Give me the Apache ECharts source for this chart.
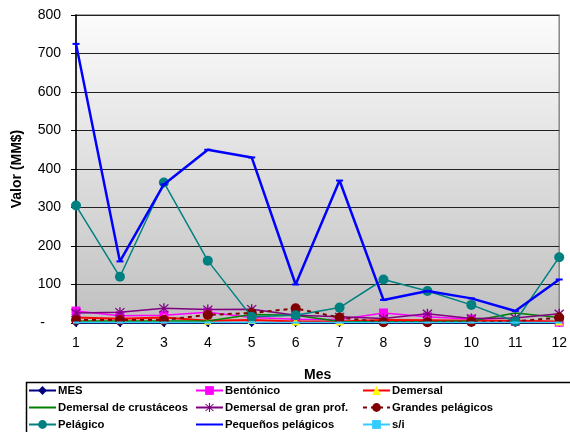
<!DOCTYPE html>
<html><head><meta charset="utf-8">
<script src="https://cdn.jsdelivr.net/npm/echarts@6/dist/echarts.min.js"></script>
<style>html,body{margin:0;padding:0;background:#fff}#c{width:570px;height:432px}</style>
</head><body><div id="c"></div>
<script>
var months = ['1','2','3','4','5','6','7','8','9','10','11','12'];
var yTicks = [0,100,200,300,400,500,600,700,800];
var seriesNames = ['MES','Bentónico','Demersal','Demersal de crustáceos','Demersal de gran prof.','Grandes pelágicos','Pelágico','Pequeños pelágicos','s/i'];
var mes = [0,0,0,0,0,0,0,0,0,0,0,0];
var bentonico = [31,19,20,28,14,10,9,26,16,10,4,2];
var demersal = [14,11,14,6,8,4,4,8,7,6,6,4];
var demCrust = [5,5,5,5,22,20,4,3,3,5,26,14];
var demGranProf = [26,28,38,35,36,20,16,12,24,12,13,24];
var grandesPel = [8,8,8,21,26,38,14,2,2,3,4,14];
var pelagico = [305,120,365,162,16,20,40,113,83,47,4,171];
var pequenosPel = [725,160,360,450,430,100,370,60,83,64,31,113];
var sinInfo = [1,1,1,1,1,1,1,1,1,1,1,1];

var star = 'path://M4.4 0 L5.6 0 L5.6 10 L4.4 10 Z M0.6 1.4 L1.4 0.6 L9.4 8.6 L8.6 9.4 Z M8.6 0.6 L9.4 1.4 L1.4 9.4 L0.6 8.6 Z';
var F = '"Liberation Sans", Arial, sans-serif';

var defs = [
  {d: mes, color:'#000080', sym:'diamond', size:8, symColor:'#000080', w:1.5},
  {d: bentonico, color:'#ff00ff', sym:'rect', size:9, symColor:'#ff00ff', w:1.5},
  {d: demersal, color:'#ff0000', sym:'triangle', size:8, symColor:'#ffff00', w:2},
  {d: demCrust, color:'#008000', sym:'none', size:0, symColor:'#008000', w:1.5, noLegSym:true},
  {d: demGranProf, color:'#800080', sym:star, size:10, symColor:'#800080', w:1.5},
  {d: grandesPel, color:'#800000', sym:'circle', size:10, symColor:'#800000', w:2, dash:[4,4]},
  {d: pelagico, color:'#008080', sym:'circle', size:10, symColor:'#008080', w:1.5},
  {d: pequenosPel, color:'#0000ff', sym:'rect', size:[7,2], symColor:'#0000ff', w:2.5, noLegSym:true},
  {d: sinInfo, color:'#33ccff', sym:'rect', size:[6,2], symColor:'#33ccff', w:1.5}
];

var series = defs.map(function(s, i){
  return {
    name: seriesNames[i], type:'line', data: s.d,
    symbol: s.sym, symbolSize: s.size, showSymbol: s.sym !== 'none',
    lineStyle:{color:s.color, width:s.w, type: s.dash || 'solid'},
    itemStyle:{color:s.symColor, borderColor:s.symColor, borderWidth:0},
    z: 2 + i, animation:false
  };
});

var colX = [28, 195, 362];
var rowY = [385, 402, 419];
var legends = seriesNames.map(function(n, i){
  var item = {name:n};
  if (defs[i].noLegSym) item.itemStyle = {opacity:0};
  return {
    data:[item], left: colX[i % 3], top: rowY[Math.floor(i / 3)],
    itemWidth: 27, itemHeight: 11, itemGap: 0, padding: 0,
    textStyle:{fontFamily:F, fontSize:11.3, fontWeight:'bold', color:'#000', padding:[0,0,0,-3]},
    selectedMode:false
  };
});

var chart = echarts.init(document.getElementById('c'), null, {renderer:'canvas'});
chart.setOption({
  animation:false,
  backgroundColor:'#fff',
  grid:{left:76, right:8, top:15, bottom:109, show:true,
    borderColor:'#888', borderWidth:1.5,
    backgroundColor:{type:'linear', x:0, y:0, x2:0, y2:1,
      colorStops:[{offset:0,color:'#fcfcfc'},{offset:1,color:'#c0c0c0'}]}},
  legend: legends,
  xAxis:{type:'category', data:months, boundaryGap:false,
    name:'Mes', nameLocation:'middle', nameGap:45,
    nameTextStyle:{fontFamily:F, fontSize:14, fontWeight:'bold', color:'#000'},
    axisLine:{lineStyle:{color:'#000', width:1.5}},
    axisTick:{show:true, inside:false, length:4, lineStyle:{color:'#000'}},
    axisLabel:{fontFamily:F, fontSize:14, color:'#000', margin:13},
    splitLine:{show:false}},
  yAxis:{type:'value', min:yTicks[0], max:yTicks[yTicks.length-1], interval:100,
    name:'Valor (MM$)', nameLocation:'middle', nameGap:52, nameRotate:90,
    nameTextStyle:{fontFamily:F, fontSize:14, fontWeight:'bold', color:'#000'},
    axisLine:{show:true, lineStyle:{color:'#000', width:1.5}},
    axisTick:{show:true, length:5, lineStyle:{color:'#000'}},
    axisLabel:{fontFamily:F, fontSize:14, color:'#000', margin:15,
      formatter:function(v){ return v === 0 ? '{d|-}' : String(v); },
      rich:{d:{fontFamily:F, fontSize:14, color:'#000', padding:[0,16,0,0]}}},
    splitLine:{show:true, lineStyle:{color:'#222', width:1}}},
  graphic:[{type:'rect', shape:{x:26.5, y:382.5, width:620, height:60},
    style:{fill:'none', stroke:'#000', lineWidth:1.5}, z:-1}],
  series: series
});
</script></body></html>
